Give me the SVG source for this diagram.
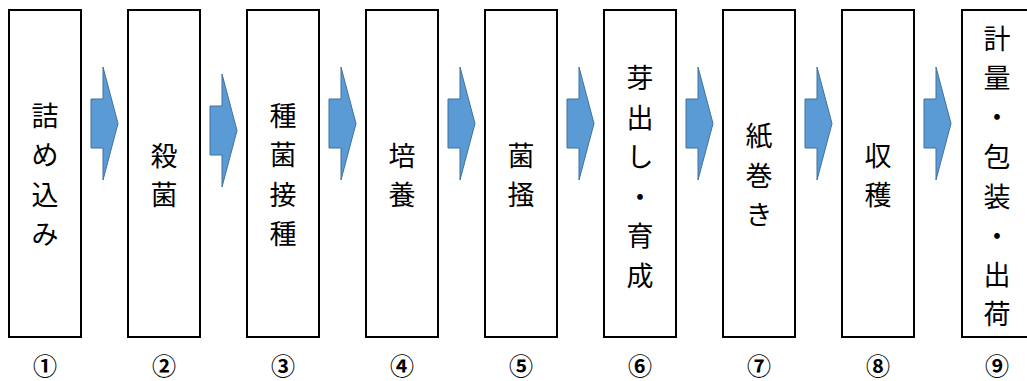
<svg xmlns="http://www.w3.org/2000/svg" width="1027" height="381" viewBox="0 0 1027 381">
<style>
.box{fill:#fff;stroke:#000;stroke-width:2}
.arr{fill:#5B9BD5;stroke:#41719C;stroke-width:1}
.t{font-family:"Noto Sans CJK JP","Noto Sans CJK SC",sans-serif;font-size:27px;fill:#000;text-anchor:middle;dominant-baseline:central}
.n{font-family:"Noto Sans CJK JP","Noto Sans CJK SC",sans-serif;font-size:24px;font-weight:bold;fill:#000;text-anchor:middle}
</style>
<defs>
<path id="ar" class="arr" d="M0,32 H12 V0 L27,56.5 L12,113 V81 H0 Z"/>
</defs>
<g id="connectors">
<use href="#ar" x="91" y="67"/>
<use href="#ar" x="210" y="74"/>
<use href="#ar" x="329" y="67"/>
<use href="#ar" x="448" y="67"/>
<use href="#ar" x="567" y="67"/>
<use href="#ar" x="686" y="67"/>
<use href="#ar" x="805" y="67"/>
<use href="#ar" x="924" y="67"/>
</g>
<g id="n1"><rect class="box" x="9" y="10" width="72" height="327"/>
<text class="t" x="45" y="114">詰</text><text class="t" x="45" y="153.5">め</text><text class="t" x="45" y="193">込</text><text class="t" x="45" y="232.5">み</text>
<text class="n" x="45" y="375">①</text></g>
<g id="n2"><rect class="box" x="128" y="10" width="72" height="327"/>
<text class="t" x="164" y="154">殺</text><text class="t" x="164" y="193.5">菌</text>
<text class="n" x="164" y="375">②</text></g>
<g id="n3"><rect class="box" x="247" y="10" width="72" height="327"/>
<text class="t" x="283" y="114">種</text><text class="t" x="283" y="153.5">菌</text><text class="t" x="283" y="193">接</text><text class="t" x="283" y="232.5">種</text>
<text class="n" x="283" y="375">③</text></g>
<g id="n4"><rect class="box" x="366" y="10" width="72" height="327"/>
<text class="t" x="402" y="154">培</text><text class="t" x="402" y="193.5">養</text>
<text class="n" x="402" y="375">④</text></g>
<g id="n5"><rect class="box" x="485" y="10" width="72" height="327"/>
<text class="t" x="521" y="154">菌</text><text class="t" x="521" y="193.5">掻</text>
<text class="n" x="521" y="375">⑤</text></g>
<g id="n6"><rect class="box" x="604" y="10" width="72" height="327"/>
<text class="t" x="640" y="76.5">芽</text><text class="t" x="640" y="116">出</text><text class="t" x="640" y="155.5">し</text><text class="t" x="640" y="195">・</text><text class="t" x="640" y="234.5">育</text><text class="t" x="640" y="274">成</text>
<text class="n" x="640" y="375">⑥</text></g>
<g id="n7"><rect class="box" x="723" y="10" width="72" height="327"/>
<text class="t" x="759" y="134.5">紙</text><text class="t" x="759" y="174">巻</text><text class="t" x="759" y="213.5">き</text>
<text class="n" x="759" y="375">⑦</text></g>
<g id="n8"><rect class="box" x="842" y="10" width="72" height="327"/>
<text class="t" x="878" y="154">収</text><text class="t" x="878" y="193.5">穫</text>
<text class="n" x="878" y="375">⑧</text></g>
<g id="n9"><rect class="box" x="962" y="10" width="72" height="327"/>
<text class="t" x="997" y="37">計</text><text class="t" x="997" y="76">量</text><text class="t" x="997" y="115">・</text><text class="t" x="997" y="155">包</text><text class="t" x="997" y="195">装</text><text class="t" x="997" y="234">・</text><text class="t" x="997" y="273.5">出</text><text class="t" x="997" y="312.5">荷</text>
<text class="n" x="997" y="375">⑨</text></g>
</svg>
